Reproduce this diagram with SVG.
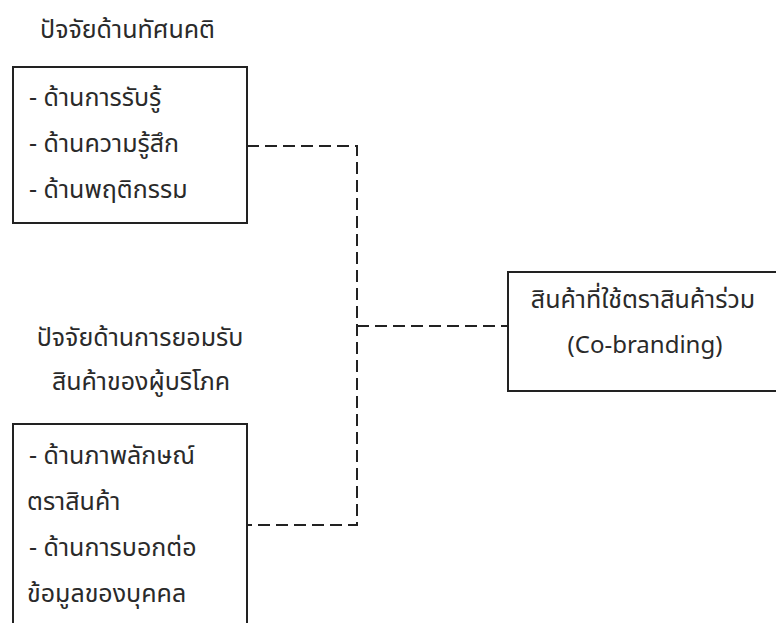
<svg xmlns="http://www.w3.org/2000/svg" width="776" height="623" viewBox="0 0 776 623">
  <style>
    .box { fill: #ffffff; stroke: #222222; stroke-width: 2; }
    .t { font-family: "Noto Sans Thai", Tahoma, "DejaVu Sans", sans-serif; font-size: 25px; fill: #2a2a2a; }
    .lat { font-size: 24px; }
    .c { text-anchor: middle; }
    .conn { fill: none; stroke: #222222; stroke-width: 2; stroke-dasharray: 12 6; }
  </style>
  <rect x="0" y="0" width="776" height="623" fill="#ffffff"/>

  <g id="title-attitude">
    <text class="t" x="40" y="38">ปัจจัยด้านทัศนคติ</text>
  </g>

  <g id="node-attitude">
    <rect class="box" x="13" y="67" width="234" height="156"/>
    <text class="t" x="29" y="106">- ด้านการรับรู้</text>
    <text class="t" x="29" y="152">- ด้านความรู้สึก</text>
    <text class="t" x="29" y="198">- ด้านพฤติกรรม</text>
  </g>

  <g id="title-acceptance">
    <text class="t c" x="140" y="346">ปัจจัยด้านการยอมรับ</text>
    <text class="t c" x="141" y="390">สินค้าของผู้บริโภค</text>
  </g>

  <g id="node-acceptance">
    <rect class="box" x="13" y="424" width="234" height="220"/>
    <text class="t" x="29" y="464">- ด้านภาพลักษณ์</text>
    <text class="t" x="27" y="510">ตราสินค้า</text>
    <text class="t" x="29" y="556">- ด้านการบอกต่อ</text>
    <text class="t" x="27" y="602">ข้อมูลของบุคคล</text>
  </g>

  <g id="node-cobranding">
    <rect class="box" x="508" y="272" width="280" height="119"/>
    <text class="t c" x="643" y="308">สินค้าที่ใช้ตราสินค้าร่วม</text>
    <text class="t c lat" x="645" y="353">(Co-branding)</text>
  </g>

  <g id="connectors">
    <path class="conn" d="M247 146 H357 V525 H247"/>
    <path class="conn" d="M357 326 H508"/>
  </g>
</svg>
